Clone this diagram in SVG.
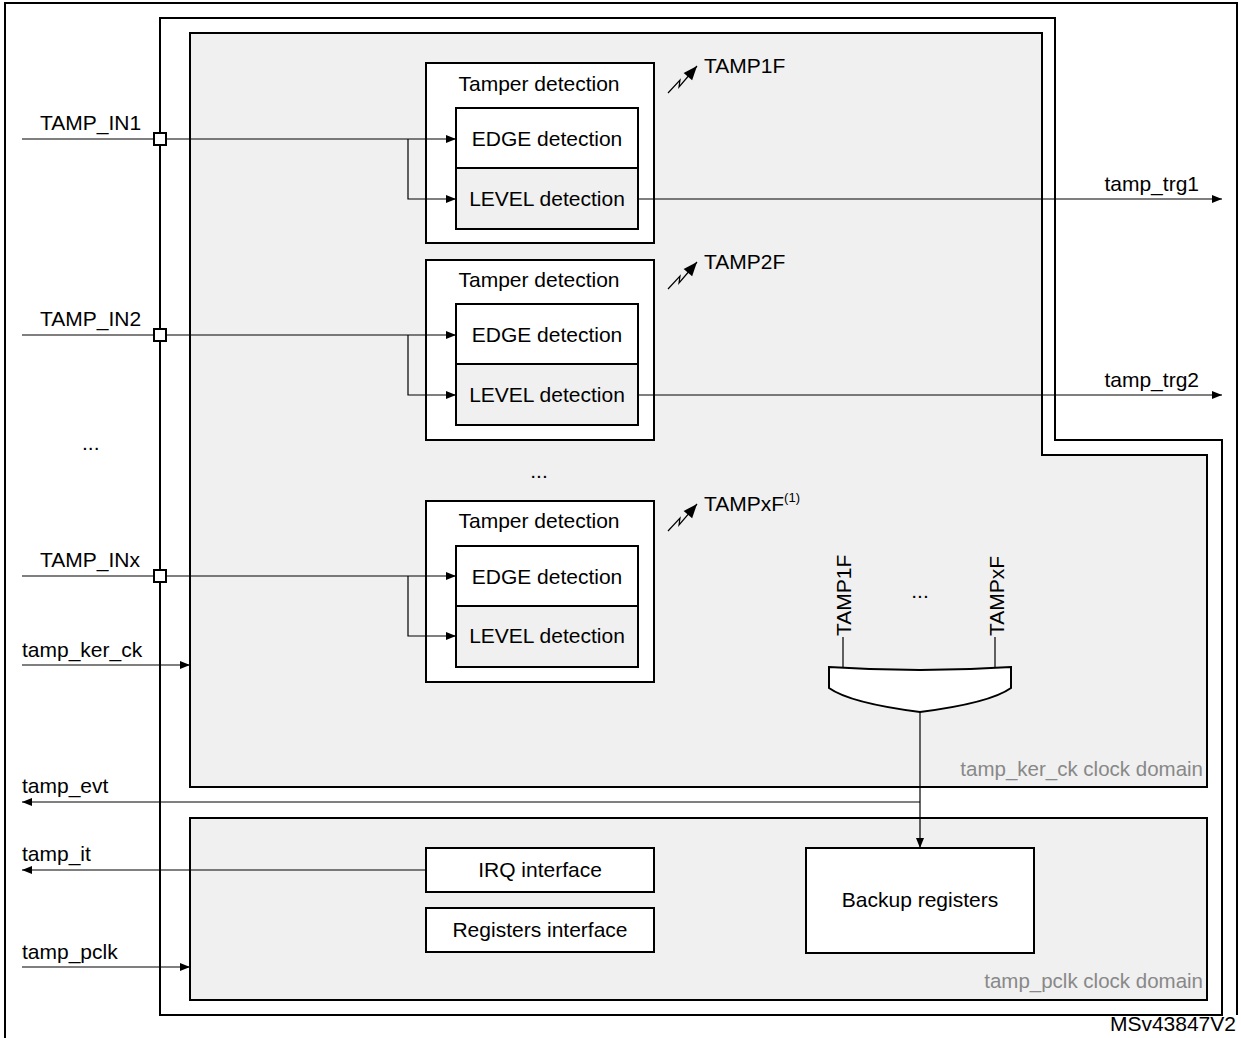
<svg xmlns="http://www.w3.org/2000/svg" width="1241" height="1038" viewBox="0 0 1241 1038">
<style>
text{font-family:"Liberation Sans",Arial,sans-serif;font-size:21px;fill:#000}
.c{text-anchor:middle}
.e{text-anchor:end}
.dom{fill:#888;font-size:20.5px;text-anchor:end}
.w{fill:#fff;stroke:#000;stroke-width:2}
.g{fill:#f0f0f0;stroke:#000;stroke-width:2}
.ln{fill:none;stroke:#000;stroke-width:1.2}
.thick{fill:none;stroke:#000;stroke-width:2}
</style>
<defs>
<marker id="a" viewBox="0 0 10 10" refX="10" refY="5" markerWidth="14" markerHeight="10" markerUnits="userSpaceOnUse" orient="auto"><path d="M0,1 L10,5 L0,9z" fill="#000"/></marker>
<marker id="b" viewBox="0 0 10 10" refX="10" refY="5" markerWidth="15" markerHeight="14" markerUnits="userSpaceOnUse" orient="auto"><path d="M0,1 L10,5 L0,9z" fill="#000"/></marker>
</defs>
<rect width="1241" height="1038" fill="#fff"/>
<path class="thick" d="M5,1038 V3 H1237 V1015"/>
<g id="main"><path class="w" d="M160,18 H1055 V440 H1222 V1015 H160 Z"/></g>
<g id="kerdomain"><path class="g" d="M190,33 H1042 V455 H1207 V787 H190 Z"/><text class="dom" x="1203" y="776">tamp_ker_ck clock domain</text></g>
<g id="pclkdomain"><rect class="g" x="190" y="818" width="1017" height="182"/><text class="dom" x="1203" y="988">tamp_pclk clock domain</text></g>
<g id="tamper1"><rect class="w" x="426" y="63" width="228" height="180"/><text class="c" x="539" y="91">Tamper detection</text>
<rect class="w" x="456" y="108" width="182" height="60"/><text class="c" x="547" y="146">EDGE detection</text>
<rect class="g" x="456" y="168" width="182" height="61"/><text class="c" x="547" y="206">LEVEL detection</text></g>
<g id="tamper2"><rect class="w" x="426" y="260" width="228" height="180"/><text class="c" x="539" y="287">Tamper detection</text>
<rect class="w" x="456" y="304" width="182" height="60"/><text class="c" x="547" y="342">EDGE detection</text>
<rect class="g" x="456" y="364" width="182" height="61"/><text class="c" x="547" y="402">LEVEL detection</text></g>
<g id="tamperx"><rect class="w" x="426" y="501" width="228" height="181"/><text class="c" x="539" y="528">Tamper detection</text>
<rect class="w" x="456" y="546" width="182" height="60"/><text class="c" x="547" y="584">EDGE detection</text>
<rect class="g" x="456" y="606" width="182" height="61"/><text class="c" x="547" y="643">LEVEL detection</text></g>
<g id="orgate"><path class="w" d="M829,667 Q920,673 1011,667 V688 Q990,703 920,712 Q850,703 829,688 Z"/>
<text transform="translate(851,636) rotate(-90)">TAMP1F</text><text transform="translate(1004,636) rotate(-90)">TAMPxF</text>
<text class="c" x="920" y="598">...</text></g>
<g id="irq"><rect class="w" x="426" y="848" width="228" height="44"/><text class="c" x="540" y="877">IRQ interface</text></g>
<g id="regif"><rect class="w" x="426" y="908" width="228" height="44"/><text class="c" x="540" y="937">Registers interface</text></g>
<g id="backup"><rect class="w" x="806" y="848" width="228" height="105"/><text class="c" x="920" y="907">Backup registers</text></g>
<g id="connectors">
<path class="ln" d="M22,139 H456" marker-end="url(#a)"/><path class="ln" d="M408,139 V199 H456" marker-end="url(#a)"/>
<path class="ln" d="M22,335 H456" marker-end="url(#a)"/><path class="ln" d="M408,335 V395 H456" marker-end="url(#a)"/>
<path class="ln" d="M22,576 H456" marker-end="url(#a)"/><path class="ln" d="M408,576 V636 H456" marker-end="url(#a)"/>
<rect class="w" x="154" y="133" width="12" height="12" stroke-width="1.5"/>
<rect class="w" x="154" y="329" width="12" height="12" stroke-width="1.5"/>
<rect class="w" x="154" y="570" width="12" height="12" stroke-width="1.5"/>
<path class="ln" d="M638,199 H1222" marker-end="url(#a)"/>
<path class="ln" d="M638,395 H1222" marker-end="url(#a)"/>
<path class="ln" d="M22,665 H190" marker-end="url(#a)"/>
<path class="ln" d="M920,802 H22" marker-end="url(#a)"/>
<path class="ln" d="M426,870 H22" marker-end="url(#a)"/>
<path class="ln" d="M22,967 H190" marker-end="url(#a)"/>
<path class="ln" d="M920,712 V848" marker-end="url(#a)"/>
<path class="ln" d="M843,637 V668 M995,637 V668"/>
<path class="ln" d="M668,93 L680,80 L679,87 L697,66" marker-end="url(#b)"/>
<path class="ln" d="M668,289 L680,276 L679,283 L697,262" marker-end="url(#b)"/>
<path class="ln" d="M668,531 L680,518 L679,525 L697,504" marker-end="url(#b)"/>
</g>
<text x="704" y="73">TAMP1F</text><text x="704" y="269">TAMP2F</text>
<text x="704" y="511">TAMPxF<tspan font-size="13" dy="-9">(1)</tspan></text>
<text class="c" x="539" y="478">...</text>
<text x="82" y="450">...</text>
<text x="40" y="130">TAMP_IN1</text><text x="40" y="326">TAMP_IN2</text><text x="40" y="567">TAMP_INx</text>
<text x="22" y="657">tamp_ker_ck</text><text x="22" y="793">tamp_evt</text><text x="22" y="861">tamp_it</text><text x="22" y="959">tamp_pclk</text>
<text class="e" x="1199" y="191">tamp_trg1</text><text class="e" x="1199" y="387">tamp_trg2</text>
<text x="1236" y="1031" font-size="13" text-anchor="end">MSv43847V2</text>
</svg>
